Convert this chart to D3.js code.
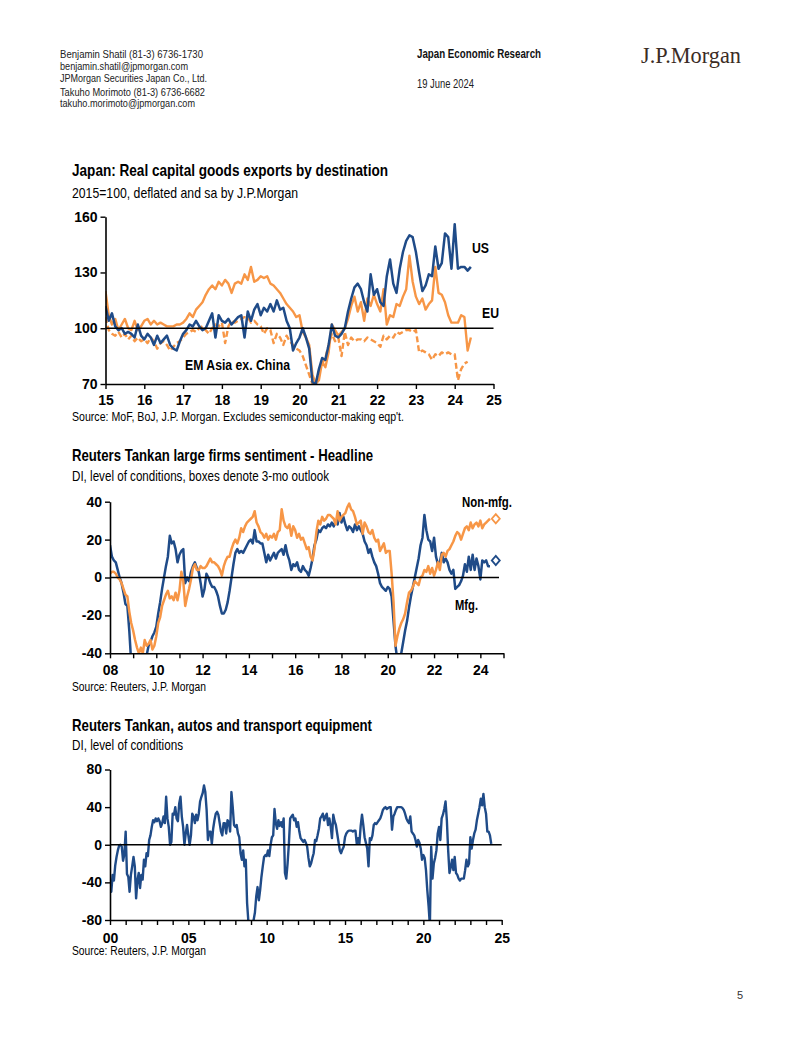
<!DOCTYPE html>
<html><head><meta charset="utf-8">
<script src="https://cdn.jsdelivr.net/npm/d3@7"></script>
<style>html,body{margin:0;padding:0;background:#fff;}svg{display:block;}</style>
</head><body>
<svg id="page" width="802" height="1037"></svg>
<script>
// ---------------- DATA ----------------
// Chart 1: Japan real capital goods exports by destination, monthly from Jan 2015 (2015=100)
const exportsStartYear = 2015;
const usExports = [
 112,104,108,101,99,100,97,98,97,95,102,96,
 94,97,95,91,96,92,94,96,91,89,88,93,
 97,99,102,101,104,101,99,100,104,108,95,107,
 104,103,105,102,104,106,107,95,109,104,110,113,
 107,111,109,113,109,115,110,111,104,100,88,92,
 95,100,95,89,71,70,78,84,83,91,102,96,
 95,97,100,109,116,122,124,121,114,109,129,118,
 121,114,112,128,137,124,119,132,141,147,150,149,
 141,130,120,123,129,128,144,132,135,151,149,132,
 156,132,133,133,131,133];
const euExports = [
 120,107,102,105,99,102,105,100,99,104,99,101,
 104,105,102,104,102,103,102,101,101,101,102,102,
 103,105,108,106,110,112,114,118,121,123,121,125,
 123,126,124,119,124,125,124,129,126,133,125,126,
 128,127,128,124,123,121,119,116,113,111,109,106,
 107,98,95,91,75,70,72,82,79,87,102,99,
 96,98,100,105,112,117,109,114,104,116,112,118,
 113,109,121,102,107,106,113,112,117,121,139,125,
 117,113,116,110,113,115,133,119,118,114,107,103,
 103,103,107,106,88,95];
const emAsiaExports = [
 106,99,97,96,98,95,97,94,96,93,95,93,
 94,92,95,93,89,92,93,91,88,90,92,93,
 95,97,98,99,98,100,101,99,97,100,102,101,
 103,92,101,104,103,104,105,106,106,103,104,102,
 101,97,100,99,92,97,95,91,96,93,91,89,
 88,85,80,75,70,70,77,81,84,91,97,93,
 95,85,98,91,95,93,94,94,93,95,94,93,
 92,90,96,94,96,95,98,97,98,99,99,98,
 99,87,88,87,86,83,86,85,87,86,87,86,
 86,72,78,81,82];
const exportsYTicks = [70, 100, 130, 160];
const exportsXTicks = [2015,2016,2017,2018,2019,2020,2021,2022,2023,2024,2025];
const exportsRef = 100;

// Chart 2: Reuters Tankan large firms, monthly from Jan 2008
const tankanStartYear = 2008;
const tankanMfg = [
 17,11,9,8,4,0,-3,-8,-14,-15,-28,-45,
 -55,-65,-70,-68,-62,-55,-48,-41,-36,-34,-31,-29,
 -26,-19,-13,-6,0,6,11,22,18,19,15,8,
 12,14,15,-3,0,-2,3,6,8,5,3,-3,
 -10,-6,2,0,-3,-5,-5,-7,-10,-15,-19,-19,
 -17,-13,-7,0,7,13,15,13,14,13,15,17,
 19,20,18,25,19,19,18,18,13,8,12,9,
 11,13,10,13,14,15,12,17,12,9,4,7,
 6,8,4,3,6,4,3,1,5,10,17,20,
 25,24,26,27,26,28,27,29,27,30,28,34,
 29,32,28,25,27,26,24,28,25,27,25,23,
 19,17,13,15,11,8,6,2,-3,-5,-6,-7,
 -5,-6,-10,-23,-36,-44,-46,-40,-34,-28,-23,-16,
 -10,-5,0,5,10,17,21,33,25,20,19,14,
 21,11,7,8,13,8,10,8,4,2,4,-6,
 -5,-4,-2,1,7,3,11,4,12,4,10,6,
 -1,9,8,9,6,6];
const tankanNonMfg = [
 2,3,3,2,0,-1,-3,-6,-9,-10,-18,-24,
 -28,-33,-37,-40,-37,-40,-33,-36,-35,-33,-38,-36,
 -31,-24,-21,-15,-12,-9,-7,-11,-10,-12,-8,-12,
 -7,3,-2,-15,-10,-6,-1,5,7,4,4,6,
 5,5,6,8,10,8,8,7,6,4,1,6,
 9,11,11,15,18,20,18,21,26,24,27,29,
 30,31,32,35,29,27,24,23,21,23,20,22,
 21,23,20,24,25,36,30,27,26,28,22,27,
 25,21,23,20,21,18,15,16,11,9,15,24,
 30,28,32,30,31,33,33,32,31,28,35,30,
 32,33,34,37,39,36,35,32,28,29,30,23,
 29,27,24,23,25,21,19,20,14,16,18,13,
 14,14,2,-13,-36,-31,-27,-24,-22,-19,-13,-8,
 -7,-5,-2,-3,-4,0,1,4,3,6,2,5,
 1,4,8,4,12,13,11,14,15,17,19,22,
 24,23,20,23,26,27,25,29,26,28,29,27,
 30,26,28,29,30,31];
const tankanOutlookDate = 2024 + 8/12;   // 3-month outlook (Sep 2024)
const tankanOutlookMfg = 9;
const tankanOutlookNonMfg = 31;
const tankanYTicks = [-40, -20, 0, 20, 40];
const tankanXTicks = d3.range(2008, 2026);
const tankanXLabels = [2008,2010,2012,2014,2016,2018,2020,2022,2024];

// Chart 3: Reuters Tankan autos & transport equipment, monthly from Jan 2000
const autosStartYear = 2000;
const autosDI = [
 -38,-50,-32,-38,-22,-13,-6,-1,0,-2,-17,-10,
 14,-31,-34,-50,-32,-23,-13,-23,-57,-38,-30,-46,
 -32,-37,-16,-23,-9,-12,5,10,19,26,24,28,
 25,28,25,19,23,30,23,51,28,19,0,3,
 33,32,40,28,25,44,51,30,19,0,12,21,
 10,0,10,33,30,23,32,26,33,46,51,55,
 63,56,37,5,14,14,1,17,26,33,35,32,
 23,14,10,23,23,12,26,24,14,56,40,21,
 19,21,12,8,-9,-16,-6,-23,-16,-62,-82,-85,
 -86,-83,-80,-72,-55,-45,-59,-48,-34,-23,-13,-11,
 -12,-6,-12,0,8,10,38,23,17,26,20,24,
 19,28,-30,-36,-20,1,28,30,32,26,28,19,
 24,14,7,5,3,5,2,-2,-14,-23,-20,-14,
 -9,5,4,10,17,28,30,33,26,30,33,21,
 28,20,7,32,25,21,12,3,-6,-9,-5,-2,
 8,12,14,15,15,15,14,15,15,1,7,1,
 20,32,21,8,2,-4,-23,7,5,10,21,23,
 22,24,26,28,32,37,39,40,38,39,40,40,
 16,30,33,37,40,40,40,40,39,37,33,28,
 25,23,30,14,12,10,5,-2,5,2,-4,-16,
 -11,-14,-27,-48,-65,-86,-2,-36,-20,-14,-6,12,
 19,5,28,32,38,46,26,-6,-30,-24,-16,-27,
 -13,-30,-32,-36,-38,-36,-36,-36,-27,-16,-23,-20,
 8,-4,5,12,16,26,33,40,49,42,54,40,
 33,14,14,10,1];
const autosYTicks = [-80, -40, 0, 40, 80];
const autosXTicks = d3.range(2000, 2026);
const autosXLabels = [2000,2005,2010,2015,2020,2025];

// ---------------- STYLE ----------------
const NAVY = "#1f4b88";
const ORANGE = "#f79646";
const NARROW = "'Liberation Sans Narrow','Arial Narrow','Liberation Sans',Arial,sans-serif";
const ARIAL = "'Liberation Sans',Arial,sans-serif";

const svg = d3.select("#page");
svg.append("rect").attr("width", 802).attr("height", 1037).attr("fill", "#fff");

// text helper: a condensed look is produced by fitting the text to the width it has in the original
function txt(x, y, s, opt) {
  const t = svg.append("text").attr("x", x).attr("y", y).text(s)
    .attr("font-family", opt.family || NARROW)
    .attr("font-size", opt.size || 12)
    .attr("font-weight", opt.bold ? "bold" : "normal")
    .attr("fill", opt.color || "#000");
  if (opt.width) {
    t.attr("textLength", opt.width).attr("lengthAdjust", "spacingAndGlyphs");
  }
  return t;
}

// ---------------- HEADER ----------------
const hdr = { size: 11.5, color: "#222" };
txt(60, 58, "Benjamin Shatil  (81-3) 6736-1730", {...hdr, width: 143});
txt(60, 69.5, "benjamin.shatil@jpmorgan.com", {...hdr, width: 128});
txt(60, 81.5, "JPMorgan Securities Japan Co., Ltd.", {...hdr, width: 147});
txt(60, 95.5, "Takuho Morimoto  (81-3) 6736-6682", {...hdr, width: 145});
txt(60, 107, "takuho.morimoto@jpmorgan.com", {...hdr, width: 135});
txt(417, 58, "Japan Economic Research", {size: 12, bold: true, color: "#111", width: 124});
txt(417, 87.5, "19 June 2024", {size: 12, color: "#222", width: 57});
txt(641, 63, "J.P.Morgan", {family: "'Liberation Serif','Times New Roman',serif", size: 23, color: "#3b2c25", width: 100});
txt(737, 999, "5", {family: ARIAL, size: 11, color: "#333"});

// ---------------- CHART HELPER ----------------
let clipId = 0;
function drawChart(cfg) {
  const x = d3.scaleLinear().domain(cfg.xDomain).range([cfg.x0, cfg.x1]);
  const y = d3.scaleLinear().domain(cfg.yDomain).range([cfg.yBot, cfg.yTop]);
  const g = svg.append("g");

  const id = "clip" + (clipId++);
  g.append("clipPath").attr("id", id).append("rect")
    .attr("x", cfg.x0).attr("y", cfg.yTop - 6)
    .attr("width", cfg.x1 - cfg.x0 + 4).attr("height", cfg.yBot - cfg.yTop + 6);

  const plot = g.append("g").attr("clip-path", `url(#${id})`);
  cfg.series.forEach(s => {
    const line = d3.line()
      .x((d, i) => x(s.start + i / 12))
      .y(d => y(d));
    plot.append("path").datum(s.values)
      .attr("d", line)
      .attr("fill", "none")
      .attr("stroke", s.color)
      .attr("stroke-width", s.width || 2.4)
      .attr("stroke-linejoin", "round")
      .attr("stroke-dasharray", s.dash || null);
  });

  // reference line
  g.append("line")
    .attr("x1", x(cfg.xDomain[0])).attr("x2", cfg.refX2 || x(cfg.xDomain[1]))
    .attr("y1", y(cfg.ref)).attr("y2", y(cfg.ref))
    .attr("stroke", "#000").attr("stroke-width", 1.6);

  // axes
  const ya = g.append("g").attr("transform", `translate(${cfg.x0},0)`)
    .call(d3.axisLeft(y).tickValues(cfg.yTicks).tickSize(5).tickSizeOuter(0).tickPadding(3)
      .tickFormat(d => String(d)));
  const xa = g.append("g").attr("transform", `translate(0,${cfg.yBot})`)
    .call(d3.axisBottom(x).tickValues(cfg.xTicks).tickSize(5).tickSizeOuter(0).tickPadding(cfg.xPad)
      .tickFormat(d => cfg.xLabels.includes(d) ? String(d % 100).padStart(2, "0") : ""));
  [ya, xa].forEach(a => {
    a.select(".domain").attr("stroke", "#000").attr("stroke-width", 1.6);
    a.selectAll(".tick line").attr("stroke", "#000").attr("stroke-width", 1.4);
    a.selectAll(".tick text").attr("font-family", ARIAL).attr("font-weight", "bold")
      .attr("font-size", 14).attr("fill", "#000");
  });
  return { x, y, g };
}

// ---------------- CHART 1 ----------------
txt(72, 176, "Japan: Real capital goods exports by destination", {size: 16.5, bold: true, width: 316});
txt(72, 198, "2015=100, deflated and sa by J.P.Morgan", {size: 14.5, width: 226});
const c1 = drawChart({
  x0: 105.5, x1: 493.5, yTop: 216.7, yBot: 384,
  xDomain: [2015, 2025], yDomain: [70, 160],
  yTicks: exportsYTicks, xTicks: exportsXTicks, xLabels: exportsXTicks, xPad: 6,
  ref: exportsRef,
  series: [
    { values: emAsiaExports, start: exportsStartYear, color: ORANGE, dash: "6,3", width: 2.4 },
    { values: euExports, start: exportsStartYear, color: ORANGE, width: 2.4 },
    { values: usExports, start: exportsStartYear, color: NAVY, width: 2.5 }
  ]
});
txt(72, 421, "Source: MoF, BoJ, J.P. Morgan. Excludes semiconductor-making eqp't.", {size: 12.5, width: 332});
txt(472, 253, "US", {size: 14.5, bold: true, width: 17});
txt(482, 318, "EU", {size: 14.5, bold: true, width: 17});
txt(185, 370, "EM Asia ex. China", {size: 14.5, bold: true, width: 105});

// ---------------- CHART 2 ----------------
txt(72, 461, "Reuters Tankan large firms sentiment - Headline", {size: 16.5, bold: true, width: 301});
txt(72, 481, "DI, level of conditions, boxes denote 3-mo outlook", {size: 14.5, width: 257});
const c2 = drawChart({
  x0: 110, x1: 503.5, yTop: 501.7, yBot: 653.3,
  xDomain: [2008, 2025], yDomain: [-40, 40],
  yTicks: tankanYTicks, xTicks: tankanXTicks, xLabels: tankanXLabels, xPad: 7,
  ref: 0, refX2: 499,
  series: [
    { values: tankanMfg, start: tankanStartYear, color: NAVY, width: 2.5 },
    { values: tankanNonMfg, start: tankanStartYear, color: ORANGE, width: 2.5 }
  ]
});
const diamond = "M0,-4.6L4,0L0,4.6L-4,0Z";
[[tankanOutlookNonMfg, ORANGE], [tankanOutlookMfg, NAVY]].forEach(([v, col]) => {
  c2.g.append("path").attr("d", diamond)
    .attr("transform", `translate(${c2.x(tankanOutlookDate)},${c2.y(v)})`)
    .attr("fill", "#fff").attr("stroke", col).attr("stroke-width", 1.8);
});
txt(72, 691, "Source: Reuters, J.P. Morgan", {size: 12.5, width: 134});
txt(462, 507, "Non-mfg.", {size: 14.5, bold: true, width: 50});
txt(455, 610, "Mfg.", {size: 14.5, bold: true, width: 23});

// ---------------- CHART 3 ----------------
txt(72, 731, "Reuters Tankan, autos and transport equipment", {size: 16.5, bold: true, width: 300});
txt(72, 750, "DI, level of conditions", {size: 14.5, width: 111});
const c3 = drawChart({
  x0: 110, x1: 501.7, yTop: 769.5, yBot: 920,
  xDomain: [2000, 2025], yDomain: [-80, 80],
  yTicks: autosYTicks, xTicks: autosXTicks, xLabels: autosXLabels, xPad: 8,
  ref: 0,
  series: [
    { values: autosDI, start: autosStartYear, color: NAVY, width: 2.4 }
  ]
});
txt(72, 955, "Source: Reuters, J.P. Morgan", {size: 12.5, width: 134});
</script>
</body></html>
